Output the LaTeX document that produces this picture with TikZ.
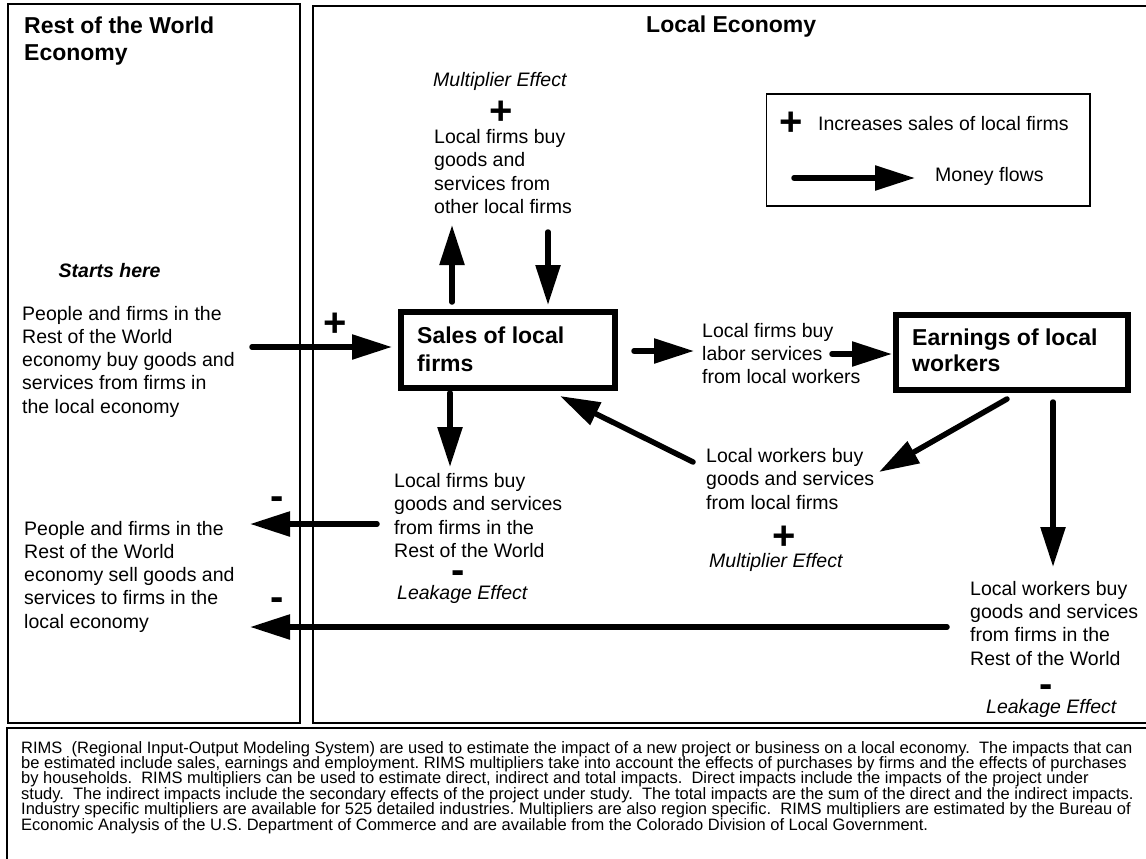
\documentclass[tikz,border=0pt]{standalone}
\usepackage{fontspec}
\setmainfont{Liberation Sans}
\usetikzlibrary{arrows.meta}
\frenchspacing
\newcommand\notefont{\fontsize{16.5}{15.4}\selectfont\lineskiplimit=-20pt\relax}
\begin{document}
\begin{tikzpicture}[x=1pt,y=-1pt,
  frame/.style={line width=1.4pt},
  flow/.style={line width=5.5pt, line cap=round, -{Triangle[length=40pt,width=24pt]}},
  txt/.style={font=\fontsize{19.5}{23.5}\selectfont, align=left, inner sep=0pt, anchor=base west},
  ital/.style={font=\fontsize{19.5}{23.5}\selectfont\itshape, inner sep=0pt, anchor=base west},
  ttl/.style={font=\fontsize{23}{27}\selectfont\bfseries, align=left, inner sep=0pt, anchor=base west},
  sgn/.style={font=\fontsize{40}{40}\selectfont\bfseries, inner sep=0pt},
  mainbox/.style={draw, line width=6pt, inner sep=0pt},
]
\useasboundingbox (0,0) rectangle (1146,859);
\clip (0,0) rectangle (1146,859);

% frames
\draw[frame] (8,4) rectangle (300,723);
\draw[frame] (1160,6) -- (313,6) -- (313,723) -- (1160,723);
\draw[frame] (1160,728) -- (7,728) -- (7,870);

% titles (base anchor = baseline of last line)
\node[ttl] (rowT) at (24,60) {Rest of the World\\Economy};
\node[ttl] (locT) at (646,33) {Local Economy};

% top multiplier
\node[ital] (mult1) at (433,87) {Multiplier Effect};
\node[sgn] (p1) at (500.7,113) {+};
\node[txt] (lfo) at (434,213.5) {Local firms buy\\goods and\\services from\\other local firms};

% legend
\draw[frame] (766.7,94) rectangle (1090,206);
\node[sgn] (lp) at (791,124) {+};
\node[txt] (lpt) at (818,130) {Increases sales of local firms};
\coordinate (la1) at (794,178);
\coordinate (la2) at (915,178);
\draw[flow] (la1) -- (la2);
\node[txt] (lat) at (935,181) {Money flows};

% left upper
\node[font=\fontsize{19.5}{23.5}\selectfont\bfseries\itshape, inner sep=0pt, anchor=base west] (start) at (58.5,277) {Starts here};
\node[txt, font=\fontsize{19.5}{23.25}\selectfont] (rowbuy) at (22,413) {People and firms in the\\Rest of the World\\economy buy goods and\\services from firms in\\the local economy};
\node[sgn] (p2) at (335,325) {+};

% main boxes
\node[mainbox, minimum width=214pt, minimum height=76pt] (sales) at (508,350) {};
\node[ttl, font=\fontsize{23}{28}\selectfont\bfseries] (salesT) at (417,371) {Sales of local\\firms};
\node[mainbox, minimum width=232pt, minimum height=75pt] (earn) at (1012,352.5) {};
\node[ttl, font=\fontsize{23}{26}\selectfont\bfseries] (earnT) at (912,371) {Earnings of local\\workers};

% labor text
\node[txt, font=\fontsize{19.5}{23}\selectfont] (lab) at (702,383) {Local firms buy\\labor services\\from local workers};

% arrows around sales
\coordinate (inS) at (252,347);
\draw[flow] (inS) -- (inS -| sales.west) [shorten >=6pt];
\coordinate (upS) at (452,302);
\coordinate (upE) at (452,225);
\draw[flow] (upS) -- (upE);
\coordinate (dnS) at (548,232);
\draw[flow] (dnS) -- (dnS |- sales.north) [shorten >=4pt];
\coordinate (r1s) at (634,351);
\draw[flow] (r1s) -- (r1s -| lab.west) [shorten >=8pt];
\coordinate (r2s) at (832,354);
\draw[flow] (r2s) -- (r2s -| earn.west) [shorten >=1pt];
\coordinate (sdS) at (450,393);
\coordinate (sdE) at (450,467);
\draw[flow] (sdS) -- (sdE);

% lower middle texts
\node[txt, font=\fontsize{19.5}{23.6}\selectfont] (lfr) at (394,557.8) {Local firms buy\\goods and services\\from firms in the\\Rest of the World};
\node[sgn] (m1) at (458,577) {-};
\node[ital] (leak1) at (397,599) {Leakage Effect};

\node[txt] (lwb) at (706,509) {Local workers buy\\goods and services\\from local firms};
\node[sgn] (p3) at (784,538) {+};
\node[ital] (mult2) at (709,567) {Multiplier Effect};

\node[txt, font=\fontsize{19.5}{23.4}\selectfont] (lwr) at (970,665.2) {Local workers buy\\goods and services\\from firms in the\\Rest of the World};
\node[sgn] (m4) at (1046,691) {-};
\node[ital] (leak2) at (986,713) {Leakage Effect};

% diagonal and vertical arrows
\coordinate (d1s) at (693,462);
\coordinate (d1e) at (560,396);
\draw[flow] (d1s) -- (d1e);
\coordinate (d2s) at (1007,399);
\coordinate (d2e) at (879,472);
\draw[flow] (d2s) -- (d2e);
\coordinate (edS) at (1053,402);
\coordinate (edE) at (1053,567);
\draw[flow] (edS) -- (edE);

% left lower
\node[txt, font=\fontsize{19.5}{23.25}\selectfont] (rowsell) at (24,628) {People and firms in the\\Rest of the World\\economy sell goods and\\services to firms in the\\local economy};
\node[sgn] (m2) at (277,503) {-};
\node[sgn] (m3) at (277,604) {-};
\coordinate (lAs) at (377,524);
\coordinate (lAe) at (250,524);
\draw[flow] (lAs) -- (lAe);
\coordinate (lBs) at (947,627);
\coordinate (lBe) at (250,627);
\draw[flow] (lBs) -- (lBe);

% bottom note
\node[inner sep=0pt, anchor=base west, align=left, font=\notefont] (note) at (21,830) {RIMS\ \ (Regional Input-Output Modeling System) are used to estimate the impact of a new project or business on a local economy.\ \ The impacts that can\\
be estimated include sales, earnings and employment. RIMS multipliers take into account the effects of purchases by firms and the effects of purchases\\
by households.\ \ RIMS multipliers can be used to estimate direct, indirect and total impacts.\ \ Direct impacts include the impacts of the project under\\
study.\ \ The indirect impacts include the secondary effects of the project under study.\ \ The total impacts are the sum of the direct and the indirect impacts.\\
Industry specific multipliers are available for 525 detailed industries. Multipliers are also region specific.\ \ RIMS multipliers are estimated by the Bureau of\\
Economic Analysis of the U.S. Department of Commerce and are available from the Colorado Division of Local Government.};
\end{tikzpicture}
\end{document}
